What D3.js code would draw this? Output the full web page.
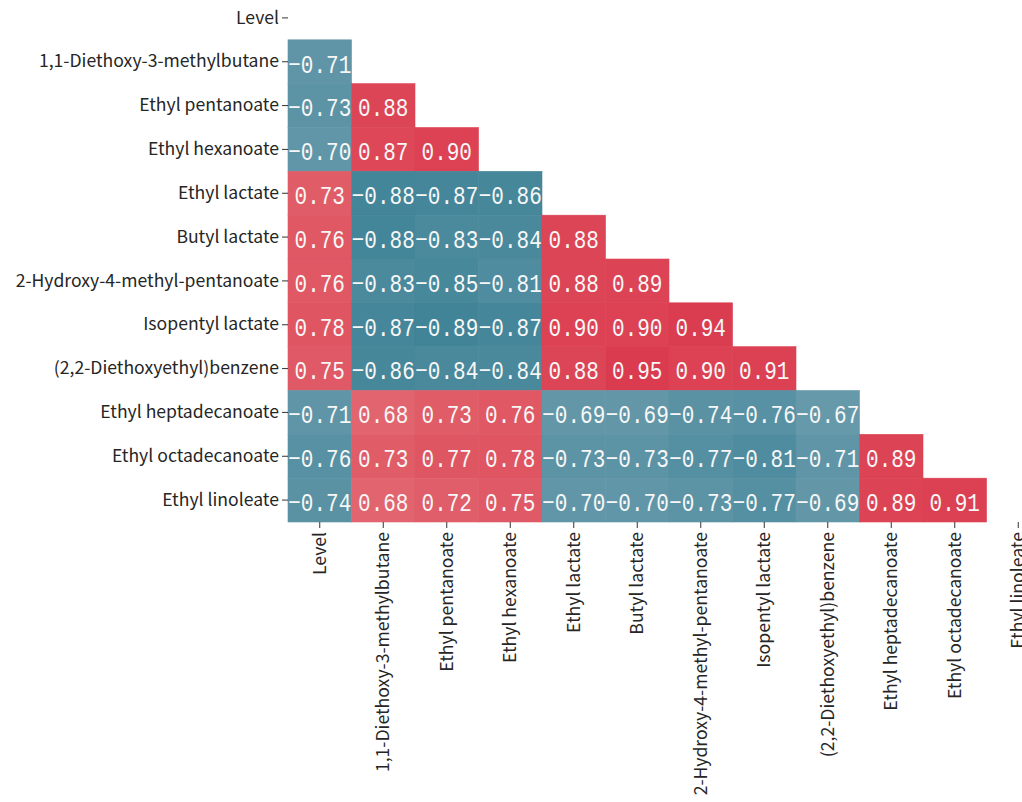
<!DOCTYPE html>
<html>
<head>
<meta charset="utf-8">
<script src="https://cdn.jsdelivr.net/npm/d3@7"></script>
<style>
  html, body { margin: 0; padding: 0; background: #fff; overflow: hidden; }
  svg { display: block; }
</style>
</head>
<body>
<svg id="chart" width="1022" height="802"></svg>
<script>
// Variables of the correlation matrix (row and column order)
const variables = [
  "Level",
  "1,1-Diethoxy-3-methylbutane",
  "Ethyl pentanoate",
  "Ethyl hexanoate",
  "Ethyl lactate",
  "Butyl lactate",
  "2-Hydroxy-4-methyl-pentanoate",
  "Isopentyl lactate",
  "(2,2-Diethoxyethyl)benzene",
  "Ethyl heptadecanoate",
  "Ethyl octadecanoate",
  "Ethyl linoleate"
];

// Lower-triangle correlation coefficients, one array per row (row i holds columns 0..i-1)
const rowLevel        = [];
const rowDiethoxy     = [-0.71];
const rowPentanoate   = [-0.73, 0.88];
const rowHexanoate    = [-0.70, 0.87, 0.90];
const rowEthylLactate = [0.73, -0.88, -0.87, -0.86];
const rowButylLactate = [0.76, -0.88, -0.83, -0.84, 0.88];
const rowHydroxy      = [0.76, -0.83, -0.85, -0.81, 0.88, 0.89];
const rowIsopentyl    = [0.78, -0.87, -0.89, -0.87, 0.90, 0.90, 0.94];
const rowBenzene      = [0.75, -0.86, -0.84, -0.84, 0.88, 0.95, 0.90, 0.91];
const rowHeptadec     = [-0.71, 0.68, 0.73, 0.76, -0.69, -0.69, -0.74, -0.76, -0.67];
const rowOctadec      = [-0.76, 0.73, 0.77, 0.78, -0.73, -0.73, -0.77, -0.81, -0.71, 0.89];
const rowLinoleate    = [-0.74, 0.68, 0.72, 0.75, -0.70, -0.70, -0.73, -0.77, -0.69, 0.89, 0.91];

const rows = [rowLevel, rowDiethoxy, rowPentanoate, rowHexanoate, rowEthylLactate,
  rowButylLactate, rowHydroxy, rowIsopentyl, rowBenzene, rowHeptadec, rowOctadec, rowLinoleate];

// Flatten into cells
const cells = [];
rows.forEach((vals, i) => {
  vals.forEach((v, j) => cells.push({ row: variables[i], col: variables[j], value: v }));
});

const svg = d3.select("#chart");

const x = d3.scaleBand().domain(variables).range([288, 1050]).paddingInner(0).paddingOuter(0);
const y = d3.scaleBand().domain(variables).range([-4, 522]).paddingInner(0).paddingOuter(0);

// Diverging blue-white-red palette
const color = d3.scaleLinear()
  .domain([-1, -0.67, 0, 0.67, 0.9, 1])
  .range(["#2f7a8f", "#6699aa", "#f5f5f5", "#e1666f", "#dc4254", "#d8334a"])
  .interpolate(d3.interpolateRgb)
  .clamp(true);

const fmt = d3.format(".2f");

// Heatmap cells (thin same-colour stroke hides anti-aliasing seams)
svg.append("g")
  .selectAll("rect")
  .data(cells)
  .join("rect")
  .attr("x", d => x(d.col))
  .attr("y", d => y(d.row))
  .attr("width", x.bandwidth())
  .attr("height", y.bandwidth())
  .attr("fill", d => color(d.value))
  .attr("stroke", d => color(d.value))
  .attr("stroke-width", 0.6);

// Axes
const labelFont = "'Noto Sans CJK SC', 'Noto Sans', sans-serif";

const yAxis = svg.append("g")
  .attr("transform", `translate(${x.range()[0]},0)`)
  .call(d3.axisLeft(y).tickSize(6).tickPadding(3));
yAxis.select(".domain").remove();
yAxis.selectAll(".tick line").attr("stroke", "#333");
yAxis.selectAll(".tick text")
  .style("font-family", labelFont)
  .style("font-size", "17.6px")
  .attr("fill", "#262626");

const xAxis = svg.append("g")
  .attr("transform", `translate(0,${y.range()[1]})`)
  .call(d3.axisBottom(x).tickSize(6).tickPadding(3));
xAxis.select(".domain").remove();
xAxis.selectAll(".tick line").attr("stroke", "#333");
xAxis.selectAll(".tick text")
  .style("font-family", labelFont)
  .style("font-size", "17.6px")
  .attr("fill", "#262626")
  .attr("text-anchor", "end")
  .attr("transform", "rotate(-90)")
  .attr("x", -10)
  .attr("y", 0)
  .attr("dy", "0.35em");

// Value annotations, drawn after the axes so the text sits on top of tick marks
svg.append("g")
  .selectAll("text")
  .data(cells)
  .join("text")
  .attr("transform", d => `translate(${x(d.col) + x.bandwidth() / 2},${y(d.row) + y.bandwidth() / 2}) scale(1,1.25)`)
  .attr("y", 8.7)
  .attr("text-anchor", "middle")
  .style("font-family", "'Liberation Mono', 'DejaVu Sans Mono', monospace")
  .style("font-size", "21px")
  .attr("fill", "#f7f7f7")
  .text(d => fmt(d.value));
</script>
</body>
</html>
